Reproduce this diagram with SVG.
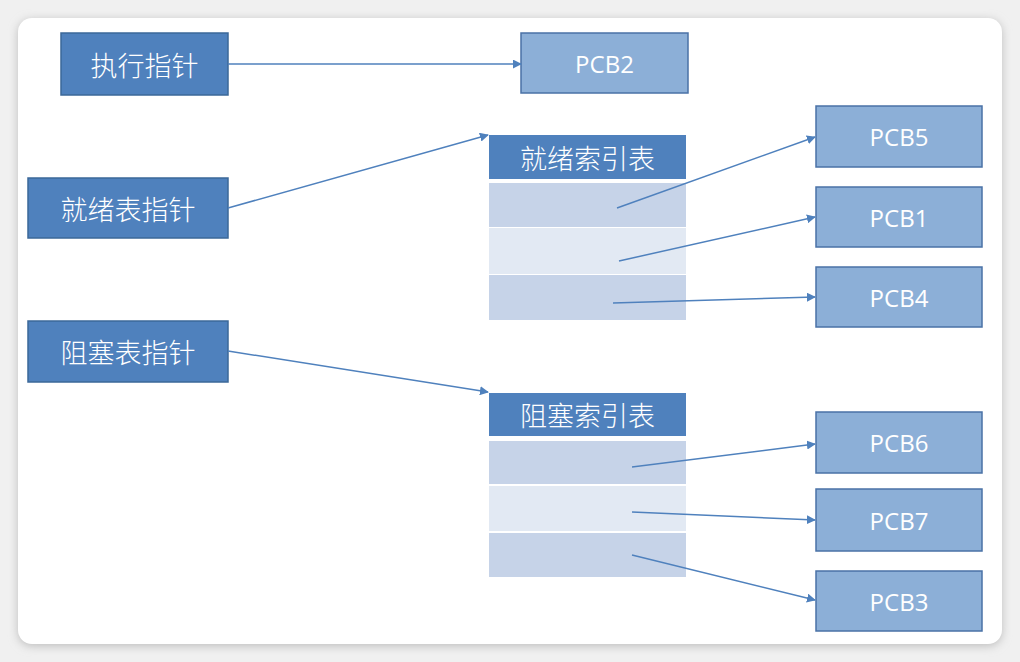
<svg xmlns="http://www.w3.org/2000/svg" width="1020" height="662" viewBox="0 0 1020 662">
<defs>
<style>
.dark{fill:#4f81bd;stroke:#3b6899;stroke-width:1.5}
.hdr{fill:#4f81bd}
.pcb{fill:#8cafd7;stroke:#4a72a6;stroke-width:1.5}
.r1{fill:#c6d3e8}
.r2{fill:#e2e9f3}
.zh{font-family:"Noto Sans CJK SC",sans-serif;font-weight:300;font-size:27px;fill:#fff;text-anchor:middle;dominant-baseline:central}
.en{font-family:"Open Sans","Liberation Sans",sans-serif;font-size:24px;fill:#fff;text-anchor:middle;dominant-baseline:central}
.c{stroke:#4f81bd;stroke-width:1.5;fill:none;marker-end:url(#ah)}
</style>
<marker id="ah" viewBox="0 0 10 10" refX="9" refY="5" markerWidth="9" markerHeight="9" markerUnits="userSpaceOnUse" orient="auto">
<path d="M0,0 L10,5 L0,10 z" fill="#4f81bd"/>
</marker>
<filter id="sh" x="-5%" y="-5%" width="110%" height="110%">
<feGaussianBlur stdDeviation="5"/>
</filter>
</defs>
<rect x="0" y="0" width="1020" height="662" fill="#f0f0f0"/>
<rect x="18" y="20" width="984" height="626" rx="14" fill="#bdbdbd" filter="url(#sh)"/>
<rect x="18" y="18" width="984" height="626" rx="14" fill="#ffffff"/>

<g id="exec"><rect class="dark" x="61" y="33" width="167" height="62"/><text class="zh" x="144.5" y="64">执行指针</text></g>
<g id="pcb2"><rect class="pcb" x="521" y="33" width="167" height="60"/><text class="en" x="604.5" y="63">PCB2</text></g>
<g id="readyptr"><rect class="dark" x="28" y="178" width="200" height="60"/><text class="zh" x="128" y="208">就绪表指针</text></g>
<g id="blockptr"><rect class="dark" x="28" y="321" width="200" height="61"/><text class="zh" x="128" y="351">阻塞表指针</text></g>

<g id="readytable">
<rect class="hdr" x="489" y="135" width="197" height="44"/>
<text class="zh" x="587.5" y="157">就绪索引表</text>
<rect class="r1" x="489" y="183" width="197" height="44"/>
<rect class="r2" x="489" y="228" width="197" height="46"/>
<rect class="r1" x="489" y="275" width="197" height="45"/>
</g>
<g id="blocktable">
<rect class="hdr" x="489" y="393" width="197" height="43"/>
<text class="zh" x="587.5" y="414.5">阻塞索引表</text>
<rect class="r1" x="489" y="441" width="197" height="43"/>
<rect class="r2" x="489" y="486" width="197" height="45"/>
<rect class="r1" x="489" y="533" width="197" height="44"/>
</g>

<g id="pcb5"><rect class="pcb" x="816" y="106" width="166" height="61"/><text class="en" x="899" y="136.5">PCB5</text></g>
<g id="pcb1"><rect class="pcb" x="816" y="187" width="166" height="60"/><text class="en" x="899" y="217">PCB1</text></g>
<g id="pcb4"><rect class="pcb" x="816" y="267" width="166" height="60"/><text class="en" x="899" y="297">PCB4</text></g>
<g id="pcb6"><rect class="pcb" x="816" y="412" width="166" height="61"/><text class="en" x="899" y="442.5">PCB6</text></g>
<g id="pcb7"><rect class="pcb" x="816" y="489" width="166" height="62"/><text class="en" x="899" y="520">PCB7</text></g>
<g id="pcb3"><rect class="pcb" x="816" y="571" width="166" height="60"/><text class="en" x="899" y="601">PCB3</text></g>

<g id="connectors">
<line class="c" x1="228" y1="64" x2="521" y2="64"/>
<line class="c" x1="228" y1="208" x2="488" y2="135"/>
<line class="c" x1="228" y1="351" x2="488" y2="392"/>
<line class="c" x1="617" y1="208" x2="815" y2="137"/>
<line class="c" x1="619" y1="261" x2="815" y2="217"/>
<line class="c" x1="613" y1="303" x2="815" y2="297"/>
<line class="c" x1="632" y1="467" x2="815" y2="444"/>
<line class="c" x1="632" y1="512" x2="815" y2="520"/>
<line class="c" x1="632" y1="555" x2="815" y2="600"/>
</g>
</svg>
